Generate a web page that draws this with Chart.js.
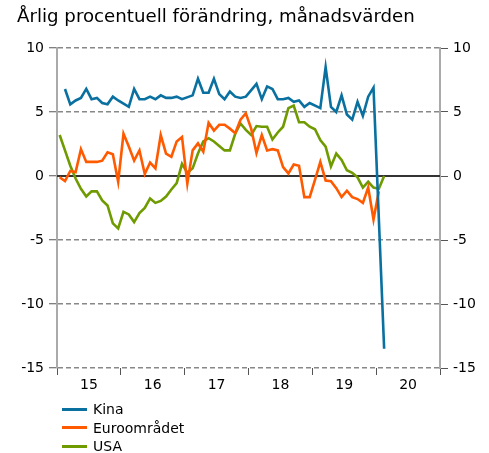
<!DOCTYPE html>
<html><head><meta charset="utf-8">
<script src="https://cdn.jsdelivr.net/npm/chart.js@4.4.1/dist/chart.umd.min.js"></script>
<style>
html,body{margin:0;padding:0;background:#fff;}
#wrap{position:relative;width:489px;height:453px;font-family:"DejaVu Sans",Verdana,sans-serif;color:#000;}
#title{position:absolute;left:17px;top:5px;font-size:18.2px;white-space:nowrap;}
canvas{position:absolute;left:0;top:0;}
#legend{position:absolute;left:62px;top:400px;font-size:14px;}
.item{display:flex;align-items:center;height:18.5px;}
.sw{width:25px;height:3px;margin-right:6px;}
</style></head><body>
<div id="wrap"><canvas id="c" width="489" height="453"></canvas><div id="title"></div><div id="legend"></div></div>
<script>
const titleText = 'Årlig procentuell förändring, månadsvärden';
const yearLabels = ['15','16','17','18','19','20'];
const seriesNames = ['Kina','Euroområdet','USA'];
const seriesColors = ['#0a70a0','#ff5a00','#6f9a00'];

// monthly values from Jan 2015 (Kina: Jan–Feb reported jointly, shown in Feb)
const kina = [
  null,6.8,5.6,5.9,6.1,6.8,6.0,6.1,5.7,5.6,6.2,5.9,
  null,5.4,6.8,6.0,6.0,6.2,6.0,6.3,6.1,6.1,6.2,6.0,
  null,6.3,7.6,6.5,6.5,7.6,6.4,6.0,6.6,6.2,6.1,6.2,
  null,7.2,6.0,7.0,6.8,6.0,6.0,6.1,5.8,5.9,5.4,5.7,
  null,5.3,8.5,5.4,5.0,6.3,4.8,4.4,5.8,4.7,6.2,6.9,
  null,-13.5
];
const euro = [
  -0.1,-0.4,0.4,0.3,2.1,1.1,1.1,1.1,1.2,1.85,1.7,-0.45,
  3.3,2.3,1.2,2.0,0.15,1.05,0.6,3.2,1.75,1.5,2.7,3.05,
  -0.6,2.0,2.55,1.9,4.15,3.55,4.0,4.0,3.7,3.35,4.4,4.9,
  3.7,1.8,3.2,2.0,2.1,2.0,0.7,0.2,0.9,0.8,-1.65,-1.65,
  -0.3,1.1,-0.35,-0.4,-0.95,-1.65,-1.15,-1.65,-1.8,-2.1,-0.9,-3.4,
  -1.2
];
const usa = [
  3.2,2.0,0.8,-0.2,-1.0,-1.6,-1.2,-1.2,-1.9,-2.3,-3.7,-4.1,
  -2.8,-3.0,-3.6,-2.9,-2.5,-1.75,-2.1,-1.95,-1.6,-1.05,-0.55,0.95,
  0.25,0.6,1.75,2.7,2.95,2.7,2.35,2.0,2.0,3.3,4.1,3.6,
  3.2,3.9,3.85,3.85,2.85,3.4,3.85,5.3,5.5,4.2,4.2,3.85,
  3.65,2.8,2.3,0.75,1.75,1.25,0.45,0.25,-0.1,-0.9,-0.45,-0.9,
  -1.0,0.0
];
const yTicks = [-15,-10,-5,0,5,10];

document.getElementById('title').textContent = titleText;
const leg = document.getElementById('legend');
seriesNames.forEach((n,i)=>{
  const d=document.createElement('div');d.className='item';
  const s=document.createElement('span');s.className='sw';s.style.background=seriesColors[i];
  const t=document.createElement('span');t.textContent=n;
  d.appendChild(s);d.appendChild(t);leg.appendChild(d);
});

const toPts = arr => arr.map((v,i)=>({x:i+0.5,y:v}));
const FONT = {family:'"DejaVu Sans", Verdana, sans-serif', size:14};

const zeroLine = {
  id:'zeroLine',
  beforeDatasetsDraw(chart){
    const {ctx, chartArea:a, scales:{y}} = chart;
    const py = Math.round(y.getPixelForValue(0));
    ctx.save();ctx.strokeStyle='#333';ctx.lineWidth=2;
    ctx.beginPath();ctx.moveTo(a.left,py);ctx.lineTo(a.right,py);ctx.stroke();ctx.restore();
  }
};

const yCommon = (pos)=>({
  position:pos, min:-15, max:10,
  afterBuildTicks: s => { s.ticks = yTicks.map(v=>({value:v})); },
  ticks:{font:FONT,color:'#000',padding:5},
});

new Chart(document.getElementById('c'),{
  type:'line',
  data:{datasets:[
    {label:seriesNames[0],data:toPts(kina),borderColor:seriesColors[0],spanGaps:true},
    {label:seriesNames[1],data:toPts(euro),borderColor:seriesColors[1]},
    {label:seriesNames[2],data:toPts(usa),borderColor:seriesColors[2]},
  ]},
  options:{
    responsive:false, animation:false,
    layout:{padding:{top:48,left:0,right:0,bottom:0}},
    elements:{point:{radius:0},line:{borderWidth:2.6,tension:0}},
    plugins:{legend:{display:false},tooltip:{enabled:false},title:{display:false}},
    scales:{
      x:{type:'linear',min:0,max:72,
        afterBuildTicks: s => { const t=[]; for(let v=0;v<=72;v+=6) t.push({value:v}); s.ticks=t; },
        afterFit: s => { s.height = 85; },
        ticks:{font:FONT,color:'#000',autoSkip:false,maxRotation:0,padding:2,
          callback:v => (v%12===6) ? yearLabels[(v-6)/12] : ''},
        grid:{drawOnChartArea:false,tickLength:7,tickWidth:1,
          tickColor:c => (c.tick && c.tick.value%12===0) ? '#555' : 'rgba(0,0,0,0)'},
        border:{display:false}
      },
      y:Object.assign(yCommon('left'),{
        afterFit: s => { s.width = 57; },
        grid:{color:c => (c.tick && c.tick.value===0) ? 'rgba(0,0,0,0)' : '#888',
              lineWidth:1.5,tickColor:'#555',tickLength:8,tickWidth:1},
        border:{display:true,color:'#aaa',width:2,dash:[5,3]}
      }),
      y2:Object.assign(yCommon('right'),{
        afterFit: s => { s.width = 49; },
        grid:{drawOnChartArea:false,tickColor:'#555',tickLength:8,tickWidth:1},
        border:{display:true,color:'#aaa',width:2}
      })
    }
  },
  plugins:[zeroLine]
});
</script>
</body></html>
